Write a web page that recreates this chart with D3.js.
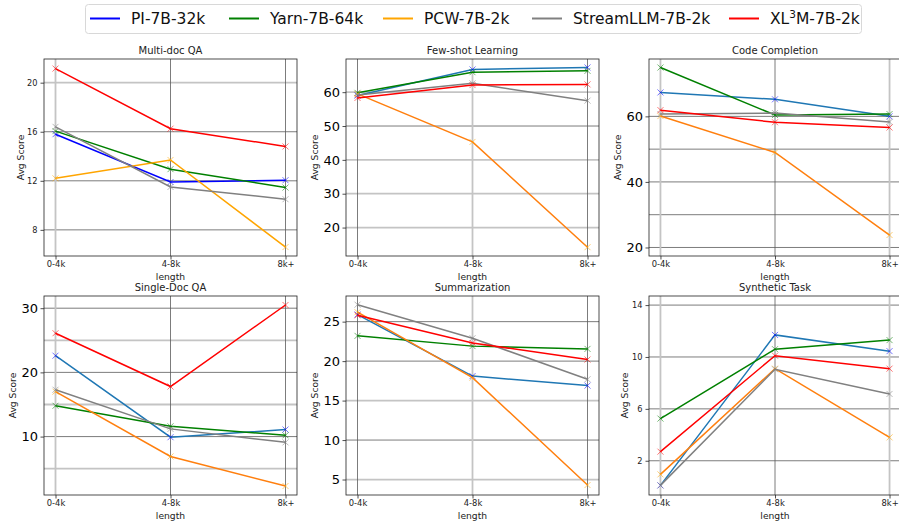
<!DOCTYPE html>
<html><head><meta charset="utf-8">
<script src="https://cdn.jsdelivr.net/npm/d3@7/dist/d3.min.js"></script>
<style>body{margin:0;background:#fff}svg{display:block;font-family:"DejaVu Sans",sans-serif}</style>
</head><body>
<svg id="c" width="899" height="523"></svg>
<script>
const categories = ["0-4k", "4-8k", "8k+"];
const tasks = ["Multi-doc QA", "Few-shot Learning", "Code Completion", "Single-Doc QA", "Summarization", "Synthetic Task"];
const models = ["PI-7B-32k", "Yarn-7B-64k", "PCW-7B-2k", "StreamLLM-7B-2k", "XL3M-7B-2k"];
// scores per task, [0-4k, 4-8k, 8k+]
const piScores     = [[15.8, 11.9, 12.05], [59.0, 66.7, 67.3], [67.3, 65.2, 60.0], [22.6, 9.9, 11.1], [25.9, 18.1, 16.9], [0.1, 11.7, 10.45]];
const yarnScores   = [[16.05, 12.95, 11.45], [59.8, 65.9, 66.3], [74.9, 60.4, 60.7], [14.8, 11.6, 10.2], [23.2, 21.9, 21.55], [5.25, 10.6, 11.3]];
const pcwScores    = [[12.2, 13.7, 6.6], [59.5, 45.3, 14.2], [60.1, 49.0, 23.8], [17.0, 6.9, 2.3], [26.2, 17.9, 4.3], [0.95, 9.1, 3.8]];
const streamScores = [[16.4, 11.5, 10.5], [59.2, 62.6, 57.5], [60.7, 61.0, 58.3], [17.3, 11.2, 9.1], [27.15, 22.9, 17.7], [0.1, 9.05, 7.15]];
const xl3mScores   = [[21.15, 16.25, 14.8], [58.3, 62.1, 62.3], [61.9, 58.2, 56.6], [26.1, 17.8, 30.5], [25.8, 22.3, 20.2], [2.7, 10.1, 9.1]];
const seriesScores = [piScores, yarnScores, pcwScores, streamScores, xl3mScores];
// axis settings per task
const yDomains = [[5.87, 21.93], [11.6, 69.8], [17.4, 77.5], [0.9, 31.9], [3.04, 28.25], [-0.64, 14.7]];
const yTickLabels = [[8, 12, 16, 20], [20, 30, 40, 50, 60], [20, 40, 60], [10, 20, 30], [5, 10, 15, 20, 25], [2, 6, 10, 14]];
const yExtraGrid = [[], [], [30, 50], [5, 15, 25], [], []];

// styling
const legendColors = ["#0000ff", "#008000", "#ffa500", "#808080", "#ff0000"];
const lineColorsFirst = ["#0000ff", "#008000", "#ffa500", "#808080", "#ff0000"];
const lineColorsRest = ["#1f77b4", "#008000", "#ff7f0e", "#808080", "#ff0000"];
const bigTicks = [false, true, true, true, true, false];
const lightH = [[20], [60, 40, 30, 20], [], [25, 15, 5], [15, 5], []];
const lightV = [[0], [1], [0, 2], [0], [1], [0, 2]];
const cols = [[44, 297], [346, 599], [649, 901]];
const rows = [[59, 256], [296, 495]];
const ylabX = [20, 314, 617, 12, 314, 624];

const svg = d3.select("#c");

tasks.forEach((task, i) => {
  const [l, r] = cols[i % 3];
  const [t, b] = rows[Math.floor(i / 3)];
  const x = d3.scalePoint().domain(categories).range([l, r]).padding(0.1);
  const y = d3.scaleLinear().domain(yDomains[i]).range([b, t]);
  const g = svg.append("g");
  const gridVals = yTickLabels[i].concat(yExtraGrid[i]);
  // horizontal grid
  gridVals.forEach(v => {
    const light = lightH[i].includes(v);
    g.append("line").attr("x1", l).attr("x2", r).attr("y1", y(v)).attr("y2", y(v))
      .attr("stroke", light ? "#c4c4c4" : "#5a5a5a").attr("stroke-width", light ? 1.8 : 0.8);
  });
  categories.forEach((c, k) => {
    const light = lightV[i].includes(k);
    g.append("line").attr("x1", x(c)).attr("x2", x(c)).attr("y1", t).attr("y2", b)
      .attr("stroke", light ? "#c4c4c4" : "#5a5a5a").attr("stroke-width", light ? 1.8 : 0.8);
  });
  // lines
  const lineGen = d3.line().x((d, k) => x(categories[k])).y(d => y(d));
  seriesScores.forEach((sc, m) => {
    const vals = sc[i];
    const col = i === 0 ? lineColorsFirst[m] : lineColorsRest[m];
    g.append("path").attr("d", lineGen(vals)).attr("fill", "none")
      .attr("stroke", col).attr("stroke-width", 1.5);
    vals.forEach((v, k) => {
      const cx = x(categories[k]), cy = y(v), s = 3;
      g.append("path").attr("d", `M${cx - s},${cy - s}L${cx + s},${cy + s}M${cx - s},${cy + s}L${cx + s},${cy - s}`)
        .attr("stroke", legendColors[m]).attr("stroke-opacity", 0.55).attr("stroke-width", 1);
    });
  });
  // spines
  g.append("rect").attr("x", l).attr("y", t).attr("width", r - l).attr("height", b - t)
    .attr("fill", "none").attr("stroke", "#222").attr("stroke-width", 0.8);
  // axes
  const xa = g.append("g").attr("transform", `translate(0,${b})`)
    .call(d3.axisBottom(x).tickSize(3.5).tickPadding(2));
  xa.select(".domain").remove();
  xa.selectAll("text").attr("font-size", 8.4).attr("fill", "#222").attr("font-family", "DejaVu Sans");
  xa.selectAll("line").attr("stroke", "#222").attr("stroke-width", 0.8);
  const ya = g.append("g").attr("transform", `translate(${l},0)`)
    .call(d3.axisLeft(y).tickValues(yTickLabels[i]).tickFormat(d3.format("d")).tickSize(3.5).tickPadding(bigTicks[i] ? 2.5 : 3));
  ya.select(".domain").remove();
  ya.selectAll("text").attr("font-size", bigTicks[i] ? 13 : 8.2).attr("fill", bigTicks[i] ? "#000" : "#222").attr("font-family", "DejaVu Sans");
  ya.selectAll("line").attr("stroke", "#222").attr("stroke-width", 0.8);
  // labels
  g.append("text").attr("x", (l + r) / 2).attr("y", t - 5).attr("text-anchor", "middle")
    .attr("font-size", 10).attr("fill", "#222").text(task);
  g.append("text").attr("x", x(categories[1])).attr("y", b + 23.5).attr("text-anchor", "middle")
    .attr("font-size", 9.2).attr("fill", "#222").text("length");
  g.append("text").attr("transform", `translate(${ylabX[i]},${(t + b) / 2}) rotate(-90)`)
    .attr("text-anchor", "middle").attr("dominant-baseline", "central")
    .attr("font-size", 9.2).attr("fill", "#222").text("Avg Score");
});

// legend
const lg = svg.append("g");
lg.append("rect").attr("x", 85.5).attr("y", 4.5).attr("width", 776).attr("height", 29).attr("rx", 3)
  .attr("fill", "#fff").attr("stroke", "#d8d8d8").attr("stroke-width", 1);
const legendX = [90, 229, 383, 532, 729];
models.forEach((m, k) => {
  lg.append("line").attr("x1", legendX[k]).attr("x2", legendX[k] + 30).attr("y1", 18.5).attr("y2", 18.5)
    .attr("stroke", legendColors[k]).attr("stroke-width", 2);
  const tx = lg.append("text").attr("x", legendX[k] + 41).attr("y", 24).attr("font-size", 15.5).attr("fill", "#111");
  if (m.startsWith("XL3M")) {
    tx.append("tspan").text("XL");
    tx.append("tspan").attr("dy", -6).attr("font-size", 10.5).text("3");
    tx.append("tspan").attr("dy", 6).text("M-7B-2k");
  } else {
    tx.text(m);
  }
});
</script>
</body></html>
